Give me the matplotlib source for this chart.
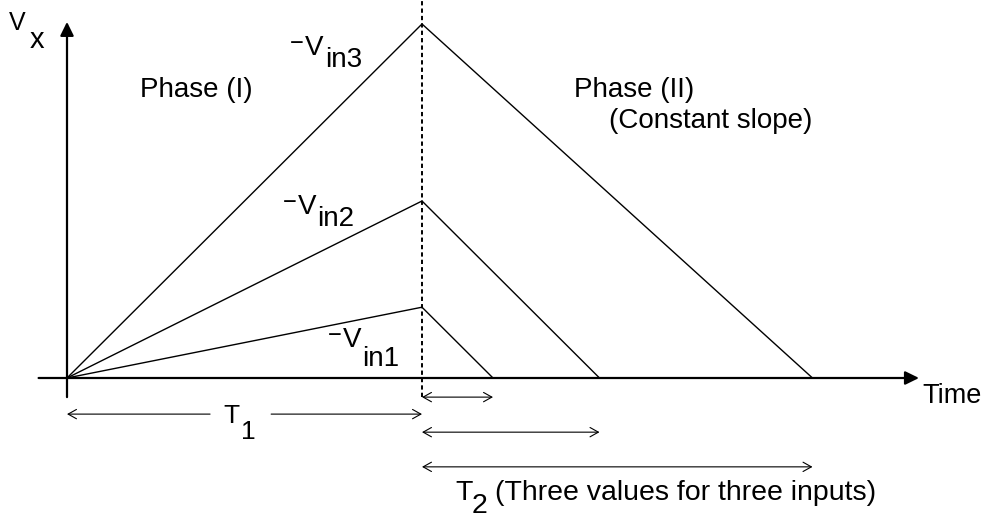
import matplotlib
matplotlib.use('Agg')
import matplotlib.pyplot as plt
from matplotlib.transforms import Affine2D

# ---- data (normalised units: T1 = 1, largest peak = 1) ----
t1 = 1.0
vin_peaks = [0.2, 0.5, 1.0]          # -Vin1, -Vin2, -Vin3 peak heights at T1
t2_values = [0.2, 0.5, 1.1]          # discharge durations T2 for the three inputs
vin_subs = ['in1', 'in2', 'in3']

W, H, DPI = 986, 518, 100
plt.rcParams['font.family'] = ['Liberation Sans', 'DejaVu Sans']
fig = plt.figure(figsize=(W / DPI, H / DPI), dpi=DPI)
ax = fig.add_axes([0, 0, 1, 1])
ax.set_axis_off()
X0, Y0, SX, SY = 67, 378, 355, 354
ax.set_xlim(-X0 / SX, (W - X0) / SX)
ax.set_ylim(-(H - Y0) / SY, Y0 / SY)

# pixel (top-left origin) transform for free text
pix = Affine2D().scale(1, -1).translate(0, H)

# ---- axes with arrows ----
axis_arrow = dict(arrowstyle='-|>,head_length=0.55,head_width=0.27', lw=1.6,
                  color='black', mutation_scale=15, shrinkA=0, shrinkB=0)
ax.annotate('', xy=(2.40, 0), xytext=(-0.08, 0), arrowprops=axis_arrow)
ax.annotate('', xy=(0, 1.006), xytext=(0, -0.054), arrowprops=axis_arrow)

# dotted line at T1
ax.plot([t1, t1], [-0.054, 1.08], color='black', lw=1.4, ls=(0, (2.2, 1.6)))

# ---- ramp curves ----
for vp, t2 in zip(vin_peaks, t2_values):
    ax.plot([0, t1, t1 + t2], [0, vp, 0], color='black', lw=1.0,
            solid_joinstyle='miter')

# ---- T2 dimension arrows ----
dim_arrow = dict(arrowstyle='<->,head_length=0.5,head_width=0.28', lw=0.8,
                 color='black', mutation_scale=12, shrinkA=0, shrinkB=0)
for y, t2 in zip([-0.054, -0.153, -0.251], t2_values):
    ax.annotate('', xy=(t1 + t2, y), xytext=(t1, y), arrowprops=dim_arrow)

# ---- T1 dimension arrow (split around label) ----
yT1 = -0.102
one_arrow = dict(arrowstyle='->,head_length=0.5,head_width=0.28', lw=0.8,
                 color='black', mutation_scale=12, shrinkA=0, shrinkB=0)
ax.annotate('', xy=(0, yT1), xytext=(0.403 * t1, yT1), arrowprops=one_arrow)
ax.annotate('', xy=(t1, yT1), xytext=(0.575 * t1, yT1), arrowprops=one_arrow)

# ---- free text ----
def ptext(x, y, s, size, **kw):
    ax.text(x, y, s, transform=pix, fontsize=size, ha='left', va='baseline', **kw)

ptext(9, 30, 'V', 18)
ptext(30, 48, 'x', 21)
ptext(140, 97, 'Phase (I)', 20)
ptext(574, 97, 'Phase (II)', 20)
ptext(609, 128, '(Constant slope)', 20)
ptext(922, 403, 'Time', 19.5)
ptext(223, 423, 'T', 19)
ptext(241, 439, '1', 19)
ptext(455, 500, 'T', 20.5)
ptext(472, 513, '2', 20.5)
ptext(495, 500, '(Three values for three inputs)', 20.5)

# ---- -Vin labels anchored to the peaks ----
offsets = [
    ((-40, -79), (-60, -59)),
    ((-13, -124), (-105, -25)),
    ((-31, -117), (-97, -43)),
]
for vp, sub, ((vdy, vdx), (sdx, sdy)) in zip(vin_peaks, vin_subs, offsets):
    ax.text(t1, vp, '\u2212', fontsize=17, ha='right', va='baseline',
            transform=ax.transData + Affine2D().translate(vdx - 1, vdy + 5))
    ax.text(t1, vp, 'V', fontsize=20, ha='left', va='baseline',
            transform=ax.transData + Affine2D().translate(vdx, vdy))
    ax.text(t1, vp, sub, fontsize=20, ha='left', va='baseline',
            transform=ax.transData + Affine2D().translate(sdx, sdy))

fig.savefig('out.png', dpi=DPI)
